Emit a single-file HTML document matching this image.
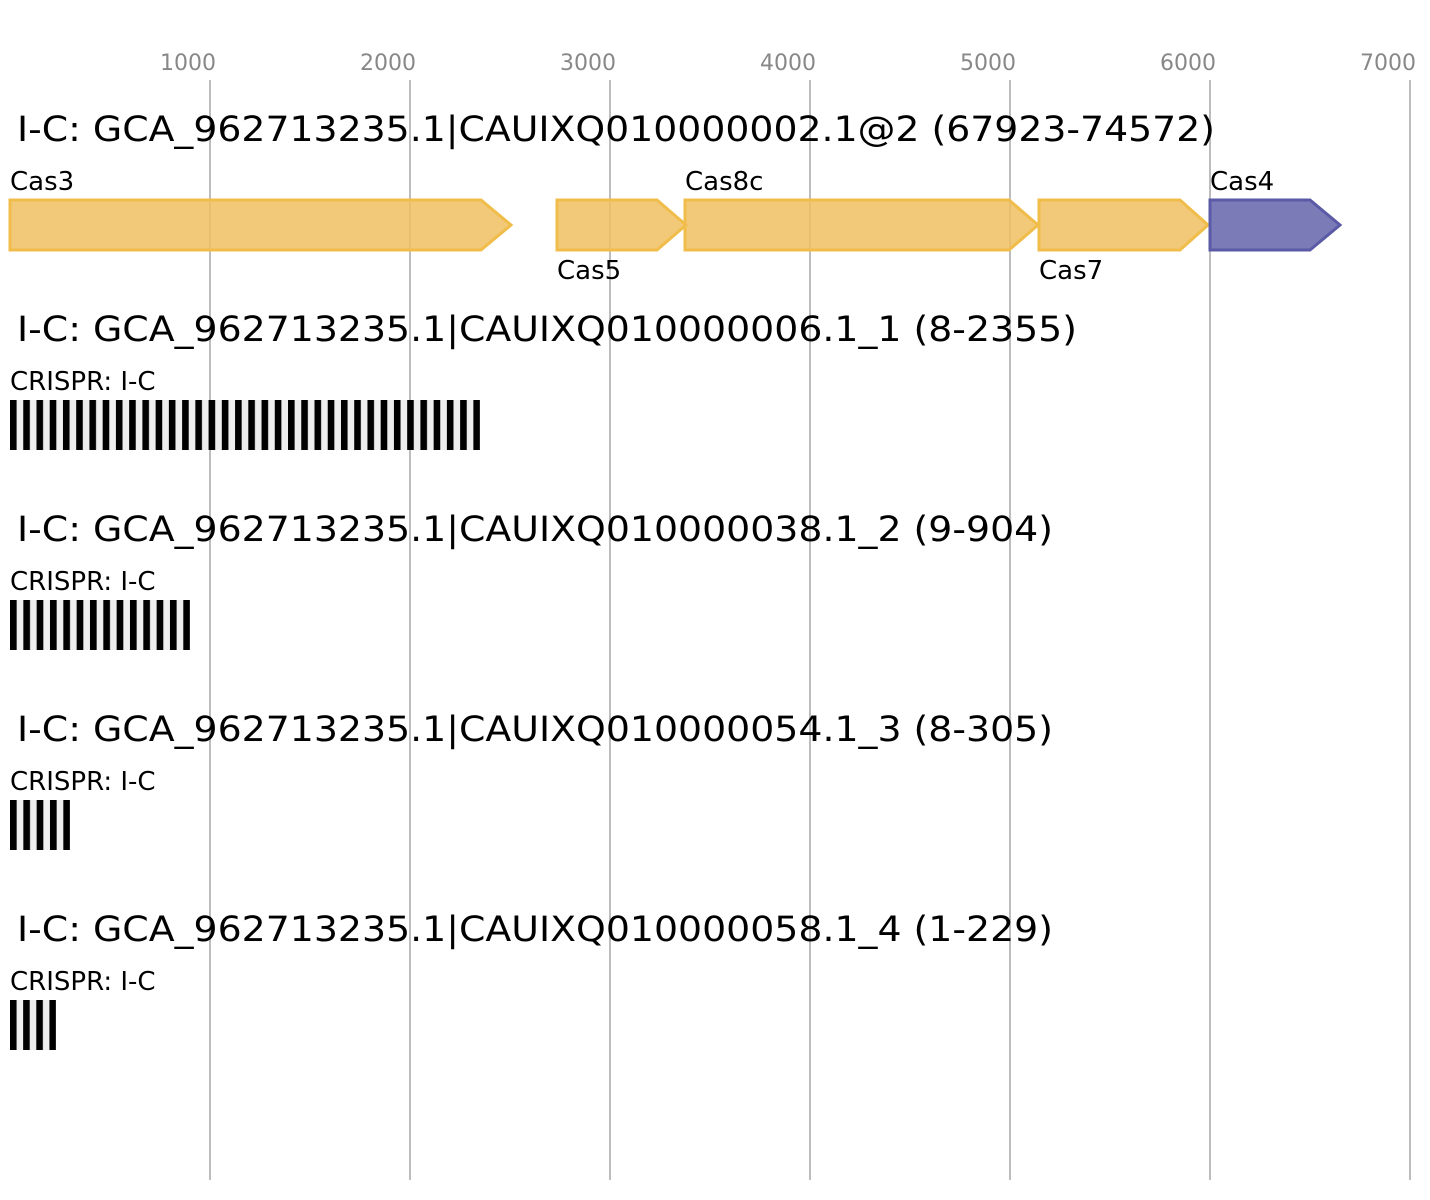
<!DOCTYPE html>
<html><head><meta charset="utf-8"><style>
html,body{margin:0;padding:0;background:#fff;}
svg{display:block;}
text{font-family:"DejaVu Sans","Liberation Sans",sans-serif;}
</style></head><body>
<svg width="1430" height="1200" viewBox="0 0 1430 1200" xmlns="http://www.w3.org/2000/svg">
<g stroke="#bdbdbd" stroke-width="2">
<line x1="210" y1="80" x2="210" y2="1180"/><line x1="410" y1="80" x2="410" y2="1180"/>
<line x1="610" y1="80" x2="610" y2="1180"/><line x1="810" y1="80" x2="810" y2="1180"/>
<line x1="1010" y1="80" x2="1010" y2="1180"/><line x1="1210" y1="80" x2="1210" y2="1180"/>
<line x1="1410" y1="80" x2="1410" y2="1180"/>
</g>
<g fill="#888" font-size="22" text-anchor="middle">
<text x="188" y="70">1000</text><text x="388" y="70">2000</text><text x="588" y="70">3000</text>
<text x="788" y="70">4000</text><text x="988" y="70">5000</text><text x="1188" y="70">6000</text><text x="1388" y="70">7000</text>
</g>
<g font-size="35" fill="#000">
<text x="17" y="141" textLength="1198" lengthAdjust="spacingAndGlyphs">I-C: GCA_962713235.1|CAUIXQ010000002.1@2 (67923-74572)</text>
<text x="17" y="341" textLength="1060" lengthAdjust="spacingAndGlyphs">I-C: GCA_962713235.1|CAUIXQ010000006.1_1 (8-2355)</text>
<text x="17" y="541" textLength="1036" lengthAdjust="spacingAndGlyphs">I-C: GCA_962713235.1|CAUIXQ010000038.1_2 (9-904)</text>
<text x="17" y="741" textLength="1036" lengthAdjust="spacingAndGlyphs">I-C: GCA_962713235.1|CAUIXQ010000054.1_3 (8-305)</text>
<text x="17" y="941" textLength="1036" lengthAdjust="spacingAndGlyphs">I-C: GCA_962713235.1|CAUIXQ010000058.1_4 (1-229)</text>
</g>
<g stroke="#f0bd4a" stroke-width="3" fill="#f0c060" fill-opacity="0.85">
<polygon points="10,200 481,200 511,225 481,250 10,250"/>
<polygon points="557,200 657,200 686,225 657,250 557,250"/>
<polygon points="685,200 1009,200 1038,225 1009,250 685,250"/>
<polygon points="1039,200 1180,200 1208,225 1180,250 1039,250"/>
</g>
<polygon points="1210,200 1310,200 1340,225 1310,250 1210,250" stroke="#5a5aa6" stroke-width="3" fill="#6464aa" fill-opacity="0.85"/>
<g font-size="26" fill="#000">
<text x="10" y="190">Cas3</text><text x="557" y="279">Cas5</text><text x="685" y="190">Cas8c</text>
<text x="1039" y="279">Cas7</text><text x="1210" y="190">Cas4</text>
<text x="10" y="390">CRISPR: I-C</text><text x="10" y="590">CRISPR: I-C</text>
<text x="10" y="790">CRISPR: I-C</text><text x="10" y="990">CRISPR: I-C</text>
</g>
<rect x="10" y="400" width="470" height="50" fill="#eeeeee"/>
<rect x="10" y="600" width="180" height="50" fill="#eeeeee"/>
<rect x="10" y="800" width="60" height="50" fill="#eeeeee"/>
<rect x="10" y="1000" width="46" height="50" fill="#eeeeee"/>
<defs>
<pattern id="p1" x="10" y="0" width="13.239" height="50" patternUnits="userSpaceOnUse"><rect width="6.6" height="50" fill="#000"/></pattern>
<pattern id="p2" x="10" y="0" width="13.33" height="50" patternUnits="userSpaceOnUse"><rect width="6.67" height="50" fill="#000"/></pattern>
<pattern id="p3" x="10" y="0" width="13.33" height="50" patternUnits="userSpaceOnUse"><rect width="6.67" height="50" fill="#000"/></pattern>
<pattern id="p4" x="10" y="0" width="13.14" height="50" patternUnits="userSpaceOnUse"><rect width="6.57" height="50" fill="#000"/></pattern>
</defs>
<rect x="10" y="400" width="470" height="50" fill="url(#p1)"/>
<rect x="10" y="600" width="180" height="50" fill="url(#p2)"/>
<rect x="10" y="800" width="60" height="50" fill="url(#p3)"/>
<rect x="10" y="1000" width="46" height="50" fill="url(#p4)"/>
</svg>
</body></html>
